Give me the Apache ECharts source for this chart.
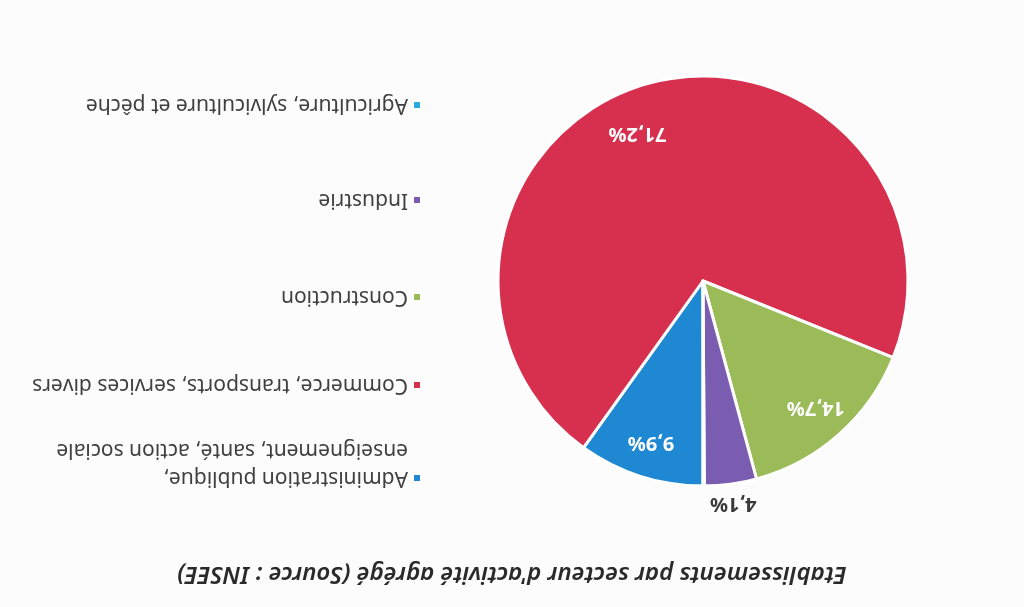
<!DOCTYPE html>
<html>
<head>
<meta charset="utf-8">
<script src="https://cdn.jsdelivr.net/npm/echarts@6/dist/echarts.min.js"></script>
<style>
    html, body { margin: 0; padding: 0; background: #fcfcfc; }
    /* la figure d'origine est scannée à l'envers : on la retourne */
    #chart { width: 1024px; height: 607px; transform: rotate(180deg); }
</style>
</head>
<body>
<div id="chart"></div>
<script>
// données (ordre des parts, sens horaire depuis midi)
const secteurs = [
    'Administration publique,\nenseignement, santé, action sociale',
    'Commerce, transports, services divers',
    'Construction',
    'Industrie',
    'Agriculture, sylviculture et pêche'
]
const parts = [9.9, 71.2, 14.7, 4.1, 0.1]
const couleurs = ['#1e88d2', '#d6304e', '#9bbb59', '#7a5cb0', '#29abe2']
const titre = "Etablissements par secteur d'activité agrégé (Source : INSEE)"

// mise en page
const centre = [321, 326]
const rayon = 205
const legendeTops = [87, 208, 296, 393, 488]
const police = '"Noto Sans", "Open Sans", sans-serif'

const fmt = v => v.toFixed(1).replace('.', ',') + '%'

const chart = echarts.init(document.getElementById('chart'))

const legendes = secteurs.map((nom, i) => ({
    orient: 'vertical',
    left: 602,
    top: legendeTops[i],
    padding: 0,
    icon: 'rect',
    itemWidth: 8,
    itemHeight: 8,
    selectedMode: false,
    data: [nom],
    // ligne vide devant pour caler le carré sur la 1re ligne
    formatter: n => (n.indexOf('\n') >= 0 ? '\n' + n : n),
    textStyle: {
        fontFamily: police,
        fontSize: 21,
        lineHeight: 28,
        color: '#404040'
    }
}))

chart.setOption({
    backgroundColor: '#fcfcfc',
    animation: false,
    title: {
        text: titre,
        left: 'center',
        top: 16,
        textStyle: {
            fontFamily: police,
            fontSize: 24,
            fontStyle: 'italic',
            fontWeight: 600,
            color: '#2a2a2a'
        }
    },
    legend: legendes,
    series: [
        {
            name: 'parts',
            type: 'pie',
            center: centre,
            radius: rayon,
            startAngle: 90,
            clockwise: true,
            avoidLabelOverlap: false,
            itemStyle: { borderColor: '#ffffff', borderWidth: 3 },
            label: { show: false },
            labelLine: { show: false, length: 20, length2: 0 },
            labelLayout: p => (p.dataIndex === 3 ? { align: 'center' } : {}),
            data: secteurs.map((nom, i) => ({
                name: nom,
                value: parts[i],
                itemStyle: { color: couleurs[i] },
                label: i === 3 ? {
                    show: true,
                    position: 'outside',
                    distanceToLabelLine: 0,
                    formatter: p => fmt(p.value),
                    fontFamily: police,
                    fontSize: 20,
                    fontWeight: 'bold',
                    color: '#3a3a3a'
                } : { show: false }
            }))
        },
        {
            // anneau invisible qui porte les étiquettes intérieures
            name: 'etiquettes',
            type: 'pie',
            center: centre,
            radius: [129, rayon],
            startAngle: 90,
            clockwise: true,
            silent: true,
            legendHoverLink: false,
            avoidLabelOverlap: false,
            itemStyle: { color: 'rgba(0,0,0,0)', borderWidth: 0 },
            labelLine: { show: false },
            labelLayout: p => (p.dataIndex === 1 ? { dx: 18, dy: -16 } : {}),
            data: secteurs.map((nom, i) => ({
                name: nom,
                value: parts[i],
                label: {
                    show: i < 3,
                    position: 'inside',
                    formatter: p => fmt(p.value),
                    fontFamily: police,
                    fontSize: 20,
                    fontWeight: 'bold',
                    color: '#ffffff'
                }
            }))
        }
    ]
})
</script>
</body>
</html>
